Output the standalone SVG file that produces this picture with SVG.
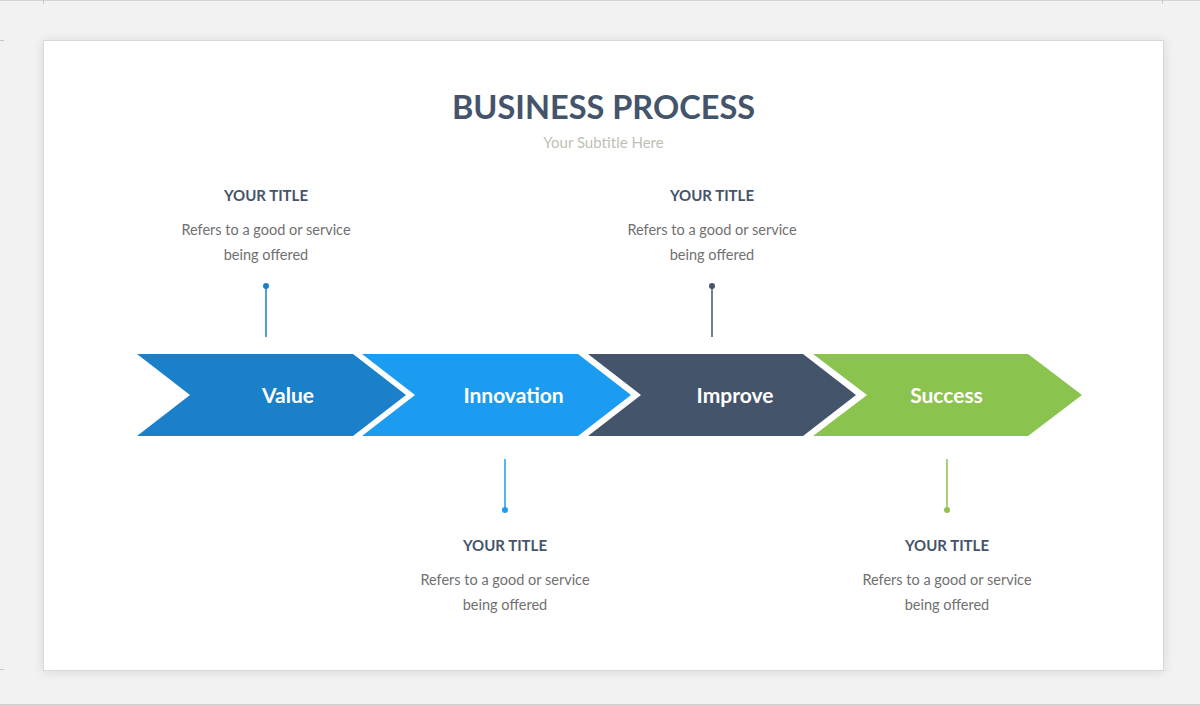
<svg xmlns="http://www.w3.org/2000/svg" width="1200" height="705" viewBox="0 0 1200 705">
<defs>
<filter id="sh" x="-5%" y="-5%" width="110%" height="110%">
<feGaussianBlur in="SourceAlpha" stdDeviation="6"/>
<feOffset dx="0" dy="1"/>
<feComponentTransfer><feFuncA type="linear" slope="0.12"/></feComponentTransfer>
<feMerge><feMergeNode/><feMergeNode in="SourceGraphic"/></feMerge>
</filter>
</defs>
<style>
text{font-family:Lato,"Liberation Sans",sans-serif;text-anchor:middle}
.lbl{font-weight:700;font-size:21px;fill:#fff}
.tt{font-weight:700;font-size:15px;fill:#44546a}
.ds{font-size:14.5px;fill:#707070}
.ln{stroke-width:1.5}
</style>
<rect x="0" y="0" width="1200" height="705" fill="#f2f2f2"/>
<line x1="0" y1="0.5" x2="1200" y2="0.5" stroke="#d4d4d4"/>
<line x1="0" y1="704.5" x2="1200" y2="704.5" stroke="#cfcfcf"/>
<line x1="43.5" y1="0" x2="43.5" y2="4" stroke="#c8c8c8"/>
<line x1="1162.5" y1="0" x2="1162.5" y2="4" stroke="#c8c8c8"/>
<line x1="0" y1="40.5" x2="4" y2="40.5" stroke="#c8c8c8"/>
<line x1="0" y1="669.5" x2="4" y2="669.5" stroke="#c8c8c8"/>
<rect x="43.5" y="40.5" width="1120" height="630" fill="#ffffff" stroke="#d8d8d8" filter="url(#sh)"/>
<text x="603.5" y="118.5" style="font-weight:700;font-size:32.5px;fill:#44546a">BUSINESS PROCESS</text>
<text x="603.5" y="147.5" style="font-size:15px;fill:#bfbfb6">Your Subtitle Here</text>
<g id="value">
<polygon points="137,354 353,354 406,395 353,436 137,436 190,395" fill="#1a80c9"/>
<text class="lbl" x="288" y="403">Value</text>
</g>
<g id="innovation">
<polygon points="362,354 578,354 631,395 578,436 362,436 415,395" fill="#1b9cf0"/>
<text class="lbl" x="513.5" y="403">Innovation</text>
</g>
<g id="improve">
<polygon points="588,354 803,354 856,395 803,436 588,436 641,395" fill="#44546a"/>
<text class="lbl" x="735" y="403">Improve</text>
</g>
<g id="success">
<polygon points="813,354 1028,354 1082,395 1028,436 813,436 867,395" fill="#8bc34f"/>
<text class="lbl" x="946.5" y="403">Success</text>
</g>
<g id="note1">
<text class="tt" x="266" y="200.5">YOUR TITLE</text>
<text class="ds" x="266" y="234.5">Refers to a good or service</text>
<text class="ds" x="266" y="259.5">being offered</text>
</g>
<g id="note2">
<text class="tt" x="505" y="550.5">YOUR TITLE</text>
<text class="ds" x="505" y="584.5">Refers to a good or service</text>
<text class="ds" x="505" y="609.5">being offered</text>
</g>
<g id="note3">
<text class="tt" x="712" y="200.5">YOUR TITLE</text>
<text class="ds" x="712" y="234.5">Refers to a good or service</text>
<text class="ds" x="712" y="259.5">being offered</text>
</g>
<g id="note4">
<text class="tt" x="947" y="550.5">YOUR TITLE</text>
<text class="ds" x="947" y="584.5">Refers to a good or service</text>
<text class="ds" x="947" y="609.5">being offered</text>
</g>
<g id="connectors">
<line class="ln" x1="266" y1="286" x2="266" y2="337" stroke="#1a80c9"/>
<circle cx="266" cy="286" r="3" fill="#1a80c9"/>
<line class="ln" x1="505" y1="459" x2="505" y2="510" stroke="#1b9cf0"/>
<circle cx="505" cy="510" r="3" fill="#1b9cf0"/>
<line class="ln" x1="712" y1="286" x2="712" y2="337" stroke="#44546a"/>
<circle cx="712" cy="286" r="3" fill="#44546a"/>
<line class="ln" x1="947" y1="459" x2="947" y2="510" stroke="#8bc34f"/>
<circle cx="947" cy="510" r="3" fill="#8bc34f"/>
</g>
</svg>
